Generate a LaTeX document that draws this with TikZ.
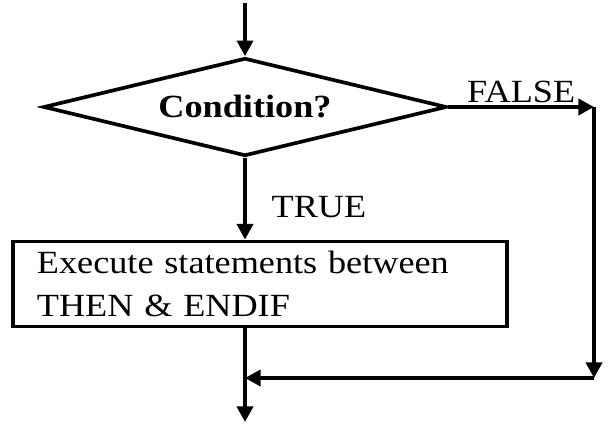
\documentclass[tikz,border=0pt]{standalone}
\usepackage{fontspec}
\setmainfont{Liberation Serif}[FakeStretch=1.12]
\usetikzlibrary{arrows.meta, positioning, shapes.geometric}

\begin{document}
\begin{tikzpicture}[
  ->,>={Triangle[length=3.9mm,width=4mm]},x=0.025cm,y=-0.025cm,
  line width=2.6pt,
  every node/.style={font=\fontsize{23}{30}\selectfont, inner sep=0pt},
  decision/.style={draw=black,diamond,aspect=4,minimum width=10.08cm,minimum height=2.45cm},
  process/.style={draw=black,rectangle,minimum width=12.35cm,minimum height=2.13cm,
    text width=11.15cm,align=left},
  every edge/.style={draw=black}]

  \useasboundingbox (0,0) rectangle (615,425);

  \node[decision] (cond) at (245,107) {\bfseries Condition?};
  \node[process]  (exec) at (260,284) {Execute statements between\\THEN \& ENDIF};

  \coordinate (in)   at (245,3);
  \coordinate (rgt)  at (594,378);
  \coordinate (join) at (245,378);
  \coordinate (out)  at (245,422);

  \path[every node/.style={font=\fontsize{23}{30}\selectfont,inner sep=2pt}]
    (in)                     edge[] (cond.north)
    (cond.south)             edge[] node[right=0.55cm, pos=0.6] {TRUE} (exec.north-|cond.south)
    (exec.south-|cond.south) edge[] (out)

    (cond.east)              edge[] node[above] {FALSE} (cond.east-|rgt)
    (cond.east-|rgt)         edge[] (rgt)
    (rgt)                    edge[] (join)
  ;

\end{tikzpicture}
\end{document}
